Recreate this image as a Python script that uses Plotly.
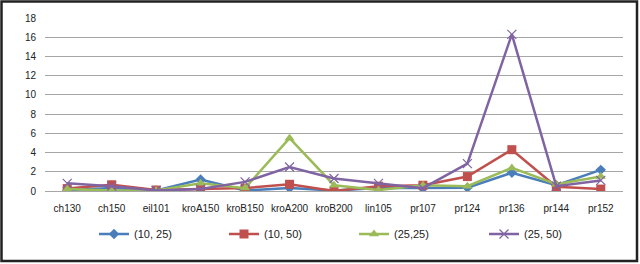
import plotly.graph_objects as go

categories = ["ch130", "ch150", "eil101", "kroA150", "kroB150", "kroA200", "kroB200",
              "lin105", "pr107", "pr124", "pr136", "pr144", "pr152"]
s_10_25 = [0.1, 0.3, 0.05, 1.2, 0.05, 0.3, 0.05, 0.3, 0.3, 0.35, 1.9, 0.6, 2.2]
s_10_50 = [0.25, 0.65, 0.1, 0.2, 0.3, 0.7, 0.0, 0.5, 0.6, 1.5, 4.3, 0.45, 0.2]
s_25_25 = [0.2, 0.05, 0.05, 0.8, 0.3, 5.5, 0.6, 0.1, 0.6, 0.5, 2.4, 0.7, 1.5]
s_25_50 = [0.8, 0.5, 0.05, 0.2, 0.95, 2.5, 1.3, 0.8, 0.3, 2.85, 16.3, 0.5, 1.1]
y_ticks = [0, 2, 4, 6, 8, 10, 12, 14, 16, 18]

series = [
    ("(10, 25)", s_10_25, "#4A7EBB", "diamond", 8, None),
    ("(10, 50)", s_10_50, "#C0504D", "square", 9, None),
    ("(25,25)", s_25_25, "#9BBB59", "triangle-up", 9, None),
    ("(25, 50)", s_25_50, "#8064A2", "x-thin", 9, 1.2),
]

fig = go.Figure()
for name, vals, color, sym, size, lw in series:
    marker = dict(symbol=sym, size=size, color=color)
    if lw is not None:
        marker["line"] = dict(color=color, width=lw)
    fig.add_trace(go.Scatter(x=categories, y=vals, name=name, mode="lines+markers",
                             line=dict(color=color, width=2.5), marker=marker))

L, R, T, B = 45, 17, 18, 73
W, H = 640, 264
pw, ph = W - L - R, H - T - B

def px(x):
    return (x - L) / pw

def py(y):
    return (H - B - y) / ph

fig.update_layout(
    width=W, height=H,
    margin=dict(l=L, r=R, t=T, b=B),
    paper_bgcolor="white", plot_bgcolor="white",
    font=dict(family="Liberation Sans", size=10, color="#222"),
    xaxis=dict(type="category", range=[-0.5, 12.5], showgrid=False, showline=False,
               ticks="", tickfont=dict(size=10), zeroline=False, ticklabelstandoff=10),
    yaxis=dict(range=[0, 18], tickvals=y_ticks, showgrid=True, gridcolor="#A6A6A6",
               gridwidth=1, zeroline=True, zerolinecolor="#A6A6A6", zerolinewidth=1,
               showline=False, ticks="", tickfont=dict(size=10), ticklabelstandoff=8),
    legend=dict(orientation="h", x=px(94), xanchor="left", y=py(234), yanchor="middle",
                entrywidth=85, entrywidthmode="pixels", font=dict(size=11),
                bgcolor="rgba(0,0,0,0)"),
    showlegend=True,
    shapes=[dict(type="rect", xref="paper", yref="paper",
                 x0=px(1.5), x1=px(637), y0=py(261), y1=py(1.5),
                 line=dict(color="#222", width=2.5))],
)

fig.write_html("out.html", config={"displayModeBar": False},
               post_script="document.body.style.margin='0';")
